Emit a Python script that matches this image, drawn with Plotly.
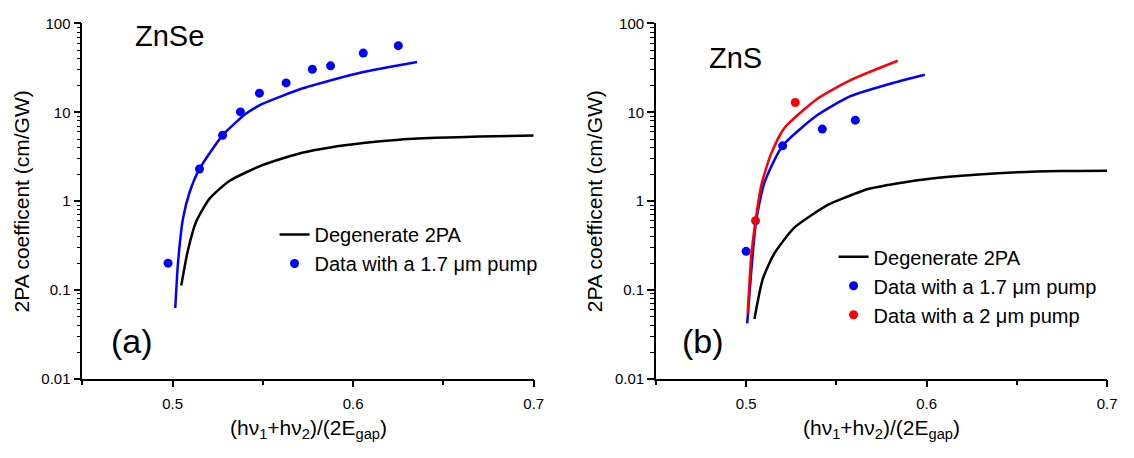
import plotly.graph_objects as go

# ---------------- data ----------------
# Panel (a) ZnSe
a_deg_x = [0.5048, 0.5085, 0.5131, 0.5204, 0.5314, 0.5497, 0.5717, 0.5873, 0.6056, 0.6239, 0.6459, 0.67, 0.7]
a_deg_y = [0.112, 0.28, 0.59, 1.06, 1.68, 2.54, 3.5, 4.02, 4.5, 4.88, 5.15, 5.33, 5.46]
a_fit_x = [0.5015, 0.503, 0.5058, 0.5094, 0.5149, 0.5277, 0.5406, 0.5497, 0.5717, 0.5873, 0.6056, 0.6239, 0.6354]
a_fit_y = [0.0625, 0.20, 0.64, 1.25, 2.3, 5.5, 9.6, 12.4, 18.5, 22.8, 28.4, 33.4, 36.8]
a_pts_x = [0.4975, 0.5149, 0.5277, 0.5376, 0.5481, 0.5629, 0.5774, 0.5875, 0.6056, 0.625]
a_pts_y = [0.20, 2.30, 5.5, 10.1, 16.4, 21.4, 30.4, 33.3, 46.4, 56.2]

# Panel (b) ZnS
b_deg_x = [0.5046, 0.5092, 0.5156, 0.5266, 0.545, 0.555, 0.567, 0.5835, 0.6028, 0.6395, 0.6743, 0.7]
b_deg_y = [0.047, 0.132, 0.257, 0.50, 0.90, 1.10, 1.36, 1.58, 1.80, 2.06, 2.18, 2.20]
b_fit17_x = [0.5006, 0.5028, 0.5055, 0.5101, 0.5202, 0.5395, 0.5578, 0.5835, 0.599]
b_fit17_y = [0.042, 0.157, 0.59, 1.61, 4.19, 9.3, 15.2, 22.0, 26.5]
b_fit2_x = [0.5009, 0.5028, 0.5052, 0.5083, 0.5138, 0.5211, 0.5395, 0.5578, 0.584]
b_fit2_y = [0.055, 0.236, 0.60, 1.48, 3.40, 6.62, 14.2, 23.0, 38.0]
b_pts17_x = [0.5, 0.5202, 0.5422, 0.5605]
b_pts17_y = [0.272, 4.19, 6.47, 8.15]
b_pts2_x = [0.5052, 0.5272]
b_pts2_y = [0.60, 12.9]

x_tickvals = [0.5, 0.6, 0.7]
x_ticktext = ["0.5", "0.6", "0.7"]
y_tickvals = [0.01, 0.1, 1, 10, 100]
y_ticktext = ["0.01", "0.1", "1", "10", "100"]

FONT = "Arial, Liberation Sans, sans-serif"
BLUE = "#0000ff"
RED = "#ff0000"
BLACK = "#000000"

W, H = 1134, 458

fig = go.Figure()

def line(x, y, color, name, xa, ya, legend, show):
    fig.add_trace(go.Scatter(x=x, y=y, mode="lines", name=name, showlegend=show,
                             line=dict(color=color, width=2.5, shape="spline", smoothing=0.6),
                             xaxis=xa, yaxis=ya, legend=legend, hoverinfo="skip"))

def pts(x, y, color, name, xa, ya, legend):
    fig.add_trace(go.Scatter(x=x, y=y, mode="markers", name=name,
                             marker=dict(color=color, size=9, line=dict(width=0)),
                             xaxis=xa, yaxis=ya, legend=legend))

# panel a
line(a_deg_x, a_deg_y, BLACK, "Degenerate 2PA", "x", "y", "legend", True)
pts(a_pts_x, a_pts_y, BLUE, "Data with a 1.7 \u03bcm pump", "x", "y", "legend")
line(a_fit_x, a_fit_y, BLUE, "fit 1.7", "x", "y", "legend", False)

# panel b
line(b_deg_x, b_deg_y, BLACK, "Degenerate 2PA", "x2", "y2", "legend2", True)
pts(b_pts17_x, b_pts17_y, BLUE, "Data with a 1.7 \u03bcm pump", "x2", "y2", "legend2")
pts(b_pts2_x, b_pts2_y, RED, "Data with a 2 \u03bcm pump", "x2", "y2", "legend2")
line(b_fit17_x, b_fit17_y, BLUE, "fit 1.7", "x2", "y2", "legend2", False)
line(b_fit2_x, b_fit2_y, RED, "fit 2", "x2", "y2", "legend2", False)

minor_y = [k * 10 ** n for n in (-2, -1, 0, 1) for k in range(2, 10)]

def xaxis(domain, anchor):
    return dict(domain=domain, anchor=anchor, range=[0.45, 0.7], showgrid=False, zeroline=False,
                showline=True, linecolor=BLACK, linewidth=1.5,
                tickmode="array", tickvals=x_tickvals, ticktext=x_ticktext,
                ticks="outside", ticklen=7, tickwidth=1.5, tickcolor=BLACK,
                ticklabelstandoff=4,
                tickfont=dict(family=FONT, size=15, color=BLACK),
                minor=dict(tickmode="array", tickvals=[0.45, 0.55, 0.65], ticks="outside",
                           ticklen=5, tickwidth=1.5, tickcolor=BLACK, showgrid=False))

def yaxis(domain, anchor):
    return dict(domain=domain, anchor=anchor, type="log", range=[-2, 2], showgrid=False, zeroline=False,
                showline=True, linecolor=BLACK, linewidth=1.5,
                tickmode="array", tickvals=y_tickvals, ticktext=y_ticktext,
                ticks="outside", ticklen=7, tickwidth=1.5, tickcolor=BLACK,
                tickfont=dict(family=FONT, size=15, color=BLACK),
                minor=dict(tickmode="array", tickvals=minor_y, ticks="outside",
                           ticklen=4, tickwidth=1, tickcolor=BLACK, showgrid=False))

ydom = [1 - 384 / H, 1 - 15 / H]
fig.update_layout(
    width=W, height=H, margin=dict(l=0, r=0, t=0, b=0),
    paper_bgcolor="white", plot_bgcolor="white",
    font=dict(family=FONT, color=BLACK),
    xaxis=xaxis([83 / W, 538.5 / W], "y"),
    yaxis=yaxis(ydom, "x"),
    xaxis2=xaxis([661.7 / W, 1117 / W], "y2"),
    yaxis2=yaxis(ydom, "x2"),
    legend=dict(x=277 / W, y=1 - 214 / H, xanchor="left", yanchor="top",
                bgcolor="rgba(0,0,0,0)", font=dict(family=FONT, size=20, color=BLACK),
                tracegroupgap=0, itemwidth=30),
    legend2=dict(x=841 / W, y=1 - 237 / H, xanchor="left", yanchor="top",
                 bgcolor="rgba(0,0,0,0)", font=dict(family=FONT, size=20, color=BLACK),
                 tracegroupgap=0, itemwidth=30),
    showlegend=True,
)

xtitle = "(h\u03bd<sub>1</sub>+h\u03bd<sub>2</sub>)/(2E<sub>gap</sub>)"
ytitle = "2PA coefficent (cm/GW)"
ann = []
for cx, cy_axis in ((310.8, 22), (889.3, 600)):
    ann.append(dict(x=cx / W, y=1 - 436 / H, xref="paper", yref="paper", text=xtitle, showarrow=False,
                    xanchor="center", yanchor="middle", font=dict(family=FONT, size=21, color=BLACK)))
    ann.append(dict(x=cy_axis / W, y=1 - 200 / H, xref="paper", yref="paper", text=ytitle, showarrow=False,
                    textangle=-90, xanchor="center", yanchor="middle", font=dict(family=FONT, size=21, color=BLACK)))
ann.append(dict(x=171 / W, y=1 - 28 / H, xref="paper", yref="paper", text="ZnSe", showarrow=False,
                xanchor="center", yanchor="middle", font=dict(family=FONT, size=29, color=BLACK)))
ann.append(dict(x=742 / W, y=1 - 51 / H, xref="paper", yref="paper", text="ZnS", showarrow=False,
                xanchor="center", yanchor="middle", font=dict(family=FONT, size=29, color=BLACK)))
ann.append(dict(x=133 / W, y=1 - 345 / H, xref="paper", yref="paper", text="(a)", showarrow=False,
                xanchor="center", yanchor="middle", font=dict(family=FONT, size=34, color=BLACK)))
ann.append(dict(x=709 / W, y=1 - 345 / H, xref="paper", yref="paper", text="(b)", showarrow=False,
                xanchor="center", yanchor="middle", font=dict(family=FONT, size=34, color=BLACK)))
fig.update_layout(annotations=ann)

fig.write_html("out.html")
